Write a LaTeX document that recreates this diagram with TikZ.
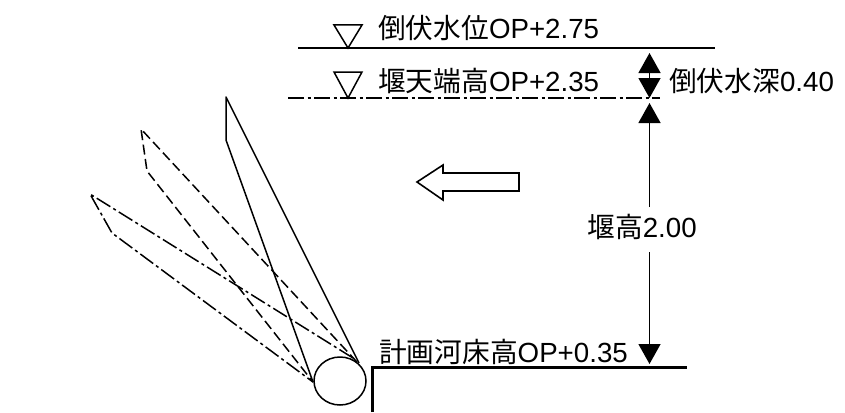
\documentclass[tikz,border=0pt]{standalone}
\usepackage{fontspec}
\setmainfont{Liberation Sans}
\newfontfamily\cjk{Noto Sans CJK JP}
\usetikzlibrary{arrows.meta,shapes.geometric}
\newcommand{\jp}[1]{{\cjk #1}}
\tikzset{
  lbl/.style={inner sep=0pt,font=\fontsize{27.7}{28}\selectfont,anchor=west,text=black},
  dashdot/.style={line width=1.5pt,dash pattern=on 16pt off 3.5pt on 3pt off 3.5pt},
  dashline/.style={line width=1.5pt,dash pattern=on 10pt off 4.5pt},
  level/.style={line width=1.5pt,line join=miter},
  dim/.style={line width=1.4pt,-{Triangle[length=20pt,width=22pt]}},
  bed/.style={line width=3pt}
}
\begin{document}
\begin{tikzpicture}[x=1pt,y=-1pt]
\useasboundingbox (0,0) rectangle (845,412);
% water levels
\coordinate (wl1) at (298,48); \coordinate (wl2) at (715,48);
\coordinate (cr1) at (288,98); \coordinate (cr2) at (660,98);
\draw[level] (wl1) -- (wl2);
\draw[dashdot] (cr1) -- (cr2);
\draw[level] (334,25) -- (362,25) -- (348,48) -- cycle;
\draw[level] (334,72) -- (362,72) -- (348,98) -- cycle;
\node[lbl] (t1) at (378,28) {\jp{倒伏水位}OP+2.75};
\node[lbl] (t2) at (378,81) {\jp{堰天端高}OP+2.35};
\node[lbl] (t3) at (669,81) {\jp{倒伏水深}0.40};
\node[lbl,anchor=center] (t4) at (642,227) {\jp{堰高}2.00};
\node[lbl,anchor=west] (t5) at (379,352) {\jp{計画河床高}OP+0.35};
% dimensions
\coordinate (a0) at (649.5,53); \coordinate (a1) at (649.5,98);
\coordinate (a2) at (649.5,76); \coordinate (a3) at (649.5,103);
\coordinate (a4) at (649.5,207); \coordinate (a5) at (649.5,252);
\coordinate (a6) at (649.5,364);
\draw[dim] (a2) -- (a0);
\draw[dim] (a2) -- (a1);
\draw[dim] (a4) -- (a3);
\draw[dim] (a5) -- (a6);
% flow arrow
\draw[line width=1.6pt,line join=miter] (417,182) -- (443,165) -- (443,173) -- (519,173) -- (519,191) -- (443,191) -- (443,200) -- cycle;
% gates
\node[draw,ellipse,line width=1.5pt,inner sep=0pt,minimum width=52pt,minimum height=48pt] (roller) at (340,381) {};
\coordinate (p) at (313,382);
\draw[line width=1.5pt,line join=round] (359,363) -- (226,97) -- (226,140) -- (p);
\draw[dashline,line join=round] (357,362) -- (141,129) -- (147,171) -- (p);
\draw[dashdot,line join=round] (353,358) -- (90,194) -- (112,233) -- (p);
% bed
\coordinate (b0) at (372,412); \coordinate (b1) at (372,367); \coordinate (b2) at (687,367);
\draw[bed,line join=miter] (b0) -- (b1) -- (b2);
\end{tikzpicture}
\end{document}
